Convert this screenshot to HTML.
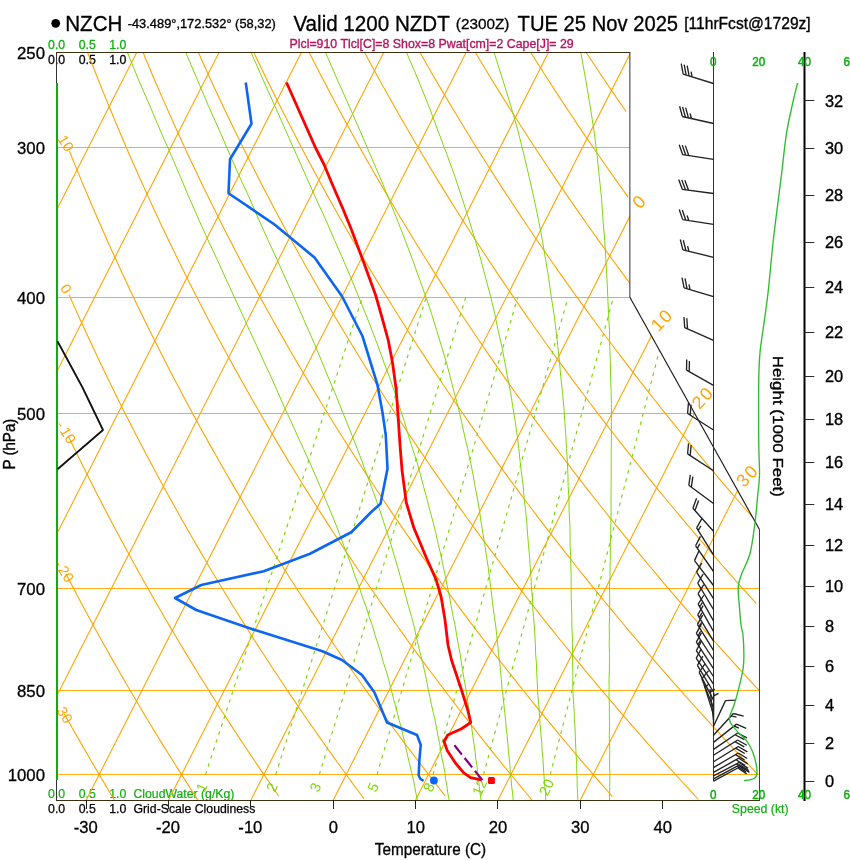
<!DOCTYPE html>
<html lang="en"><head><meta charset="utf-8"><title>NZCH Skew-T</title>
<style>
html,body{margin:0;padding:0;background:#fff}
body{width:850px;height:860px;overflow:hidden}
svg{display:block}
svg text{font-family:"Liberation Sans",sans-serif}
</style></head><body>
<svg width="850" height="860" viewBox="0 0 850 860" role="img" aria-label="NZCH skew-T log-P sounding forecast">
<rect width="850" height="860" fill="#fff"/>
<defs><clipPath id="cp"><polygon points="56.5,52.51 629.86,52.51 629.86,297.32 759.48,529.58 759.48,800 56.5,800"/></clipPath></defs>
<text transform="translate(56.6 48.9) scale(1 0.97)" font-size="12.3" fill="#10B010" stroke="#10B010" stroke-width="0.3" text-anchor="middle">0.0</text>
<text transform="translate(87.2 48.9) scale(1 0.97)" font-size="12.3" fill="#10B010" stroke="#10B010" stroke-width="0.3" text-anchor="middle">0.5</text>
<text transform="translate(117.7 48.9) scale(1 0.97)" font-size="12.3" fill="#10B010" stroke="#10B010" stroke-width="0.3" text-anchor="middle">1.0</text>
<text transform="translate(56.6 64)" font-size="12.3" stroke="#000" stroke-width="0.3" text-anchor="middle">0.0</text>
<text transform="translate(87.2 64)" font-size="12.3" stroke="#000" stroke-width="0.3" text-anchor="middle">0.5</text>
<text transform="translate(117.7 64)" font-size="12.3" stroke="#000" stroke-width="0.3" text-anchor="middle">1.0</text>
<text transform="translate(56.6 798.4) scale(1 0.97)" font-size="12.3" fill="#10B010" stroke="#10B010" stroke-width="0.2" text-anchor="middle">0.0</text>
<text transform="translate(87.2 798.4) scale(1 0.97)" font-size="12.3" fill="#10B010" stroke="#10B010" stroke-width="0.2" text-anchor="middle">0.5</text>
<text transform="translate(117.7 798.4) scale(1 0.97)" font-size="12.3" fill="#10B010" stroke="#10B010" stroke-width="0.2" text-anchor="middle">1.0</text>
<text transform="translate(133.5 798.4) scale(1 0.97)" font-size="12.25" fill="#10B010" stroke="#10B010" stroke-width="0.2">CloudWater (g/Kg)</text>
<text transform="translate(56.6 813.2)" font-size="12.3" stroke="#000" stroke-width="0.25" text-anchor="middle">0.0</text>
<text transform="translate(87.2 813.2)" font-size="12.3" stroke="#000" stroke-width="0.25" text-anchor="middle">0.5</text>
<text transform="translate(117.7 813.2)" font-size="12.3" stroke="#000" stroke-width="0.25" text-anchor="middle">1.0</text>
<text transform="translate(133.5 813.2)" font-size="12.25" stroke="#000" stroke-width="0.25">Grid-Scale Cloudiness</text>
<g clip-path="url(#cp)" fill="none">
<path d="M56.5 774.5L759.48 774.5" stroke="#FFA500" stroke-width="1" stroke-opacity=".9"/>
<path d="M56.5 690.5L759.48 690.5" stroke="#FFA500" stroke-width="1" stroke-opacity=".9"/>
<path d="M56.5 588.5L759.48 588.5" stroke="#FFA500" stroke-width="1" stroke-opacity=".9"/>
<path d="M56.5 413.5L694.37 413.5" stroke="#FFA500" stroke-width="1" stroke-opacity=".9"/>
<path d="M56.5 297.5L629.86 297.5" stroke="#FFA500" stroke-width="1" stroke-opacity=".9"/>
<path d="M56.5 147.5L629.86 147.5" stroke="#FFA500" stroke-width="1" stroke-opacity=".9"/>
<path d="M58.65 -280.14L132.12 -424.75" stroke="#FFA500" stroke-width="1.1" />
<path d="M57.45 -115.71L214.46 -424.75" stroke="#FFA500" stroke-width="1.1" />
<path d="M57.52 46.22L296.81 -424.75" stroke="#FFA500" stroke-width="1.1" />
<path d="M57.64 208.05L379.15 -424.75" stroke="#FFA500" stroke-width="1.1" />
<path d="M57.65 370.12L461.5 -424.75" stroke="#FFA500" stroke-width="1.1" />
<path d="M57.61 532.27L543.84 -424.75" stroke="#FFA500" stroke-width="1.1" />
<path d="M57.99 693.6L626.19 -424.75" stroke="#FFA500" stroke-width="1.1" />
<path d="M86.27 800L708.53 -424.75" stroke="#FFA500" stroke-width="1.1" />
<path d="M168.62 800L790.87 -424.75" stroke="#FFA500" stroke-width="1.1" />
<path d="M250.96 800L873.22 -424.75" stroke="#FFA500" stroke-width="1.1" />
<path d="M333.31 800L955.56 -424.75" stroke="#FFA500" stroke-width="1.1" />
<path d="M415.65 800L1037.91 -424.75" stroke="#FFA500" stroke-width="1.1" />
<path d="M497.99 800L1120.25 -424.75" stroke="#FFA500" stroke-width="1.1" />
<path d="M580.34 800L1202.6 -424.75" stroke="#FFA500" stroke-width="1.1" />
<path d="M64.39 713.89L67.63 719.71L70.86 725.46L74.07 731.16L77.26 736.79L80.44 742.36L83.6 747.87L86.75 753.32L89.88 758.72L92.99 764.06L96.1 769.35L99.18 774.59L102.26 779.77L105.31 784.9L108.36 789.98L111.39 795.02L114.41 800" stroke="#FFA500" stroke-width="1.1" />
<path d="M65.89 573.71L69.84 581.31L73.76 588.81L77.66 596.19L81.53 603.48L85.38 610.66L89.21 617.75L93.01 624.74L96.8 631.64L100.55 638.45L104.29 645.17L108.01 651.81L111.7 658.36L115.37 664.83L119.03 671.22L122.66 677.53L126.27 683.77L129.86 689.94L133.43 696.03L136.99 702.05L140.52 708L144.04 713.89L147.53 719.71L151.01 725.46L154.47 731.16L157.91 736.79L161.34 742.36L164.75 747.87L168.14 753.32L171.51 758.72L174.86 764.06L178.2 769.35L181.53 774.59L184.84 779.77L188.13 784.9L191.4 789.98L194.66 795.02L197.91 800" stroke="#FFA500" stroke-width="1.1" />
<path d="M68.26 435.98L73.03 445.86L77.77 455.56L82.46 465.08L87.12 474.44L91.75 483.62L96.34 492.65L100.9 501.52L105.42 510.25L109.91 518.83L114.37 527.27L118.8 535.58L123.2 543.76L127.56 551.81L131.9 559.73L136.21 567.54L140.49 575.24L144.74 582.82L148.96 590.29L153.16 597.66L157.32 604.92L161.47 612.09L165.58 619.16L169.67 626.13L173.74 633.01L177.77 639.8L181.79 646.51L185.78 653.12L189.75 659.66L193.69 666.11L197.61 672.49L201.51 678.79L205.38 685.01L209.24 691.16L213.07 697.24L216.88 703.25L220.67 709.19L224.43 715.06L228.18 720.86L231.91 726.61L235.62 732.29L239.3 737.91L242.97 743.47L246.62 748.97L250.25 754.41L253.86 759.79L257.45 765.13L261.03 770.4L264.58 775.63L268.12 780.8L271.64 785.92L275.15 790.99L278.63 796.02" stroke="#FFA500" stroke-width="1.1" />
<path d="M69.02 294.71L74.76 307.64L80.45 320.25L86.08 332.56L91.67 344.59L97.2 356.35L102.68 367.85L108.11 379.1L113.49 390.11L118.83 400.9L124.12 411.46L129.37 421.82L134.57 431.97L139.73 441.93L144.84 451.7L149.92 461.3L154.95 470.71L159.95 479.97L164.9 489.06L169.82 497.99L174.7 506.78L179.54 515.41L184.35 523.91L189.12 532.27L193.86 540.5L198.56 548.6L203.23 556.58L207.86 564.43L212.46 572.17L217.03 579.8L221.57 587.32L226.08 594.73L230.56 602.03L235.01 609.24L239.43 616.34L243.82 623.35L248.18 630.27L252.52 637.1L256.83 643.83L261.11 650.49L265.36 657.05L269.59 663.54L273.79 669.95L277.97 676.28L282.12 682.53L286.25 688.71L290.35 694.82L294.43 700.85L298.49 706.82L302.52 712.72L306.53 718.55L310.52 724.32L314.49 730.02L318.43 735.67L322.36 741.25L326.26 746.77L330.14 752.24L334 757.65L337.84 763L341.66 768.3L345.46 773.54L349.24 778.74L353 783.88L356.74 788.97L360.47 794.01L364.17 799.01" stroke="#FFA500" stroke-width="1.1" />
<path d="M69.35 150.94L76.22 167.91L83.02 184.34L89.74 200.27L96.38 215.73L102.96 230.74L109.46 245.33L115.89 259.52L122.25 273.34L128.54 286.8L134.78 299.92L140.94 312.72L147.05 325.21L153.09 337.41L159.08 349.33L165.01 360.98L170.88 372.38L176.7 383.53L182.47 394.45L188.18 405.15L193.84 415.63L199.45 425.9L205.01 435.98L210.53 445.86L215.99 455.56L221.41 465.08L226.79 474.44L232.12 483.62L237.41 492.65L242.66 501.52L247.86 510.25L253.02 518.83L258.15 527.27L263.23 535.58L268.28 543.76L273.29 551.81L278.26 559.73L283.2 567.54L288.1 575.24L292.97 582.82L297.8 590.29L302.6 597.66L307.36 604.92L312.1 612.09L316.8 619.16L321.47 626.13L326.11 633.01L330.72 639.8L335.29 646.51L339.84 653.12L344.36 659.66L348.86 666.11L353.32 672.49L357.76 678.79L362.17 685.01L366.55 691.16L370.91 697.24L375.24 703.25L379.55 709.19L383.83 715.06L388.08 720.86L392.32 726.61L396.52 732.29L400.71 737.91L404.87 743.47L409.01 748.97L413.12 754.41L417.22 759.79L421.29 765.13L425.34 770.4L429.37 775.63L433.37 780.8L437.36 785.92L441.33 790.99L445.27 796.02" stroke="#FFA500" stroke-width="1.1" />
<path d="M79.61 31.25L87.65 52.51L95.59 72.94L103.42 92.6L111.15 111.54L118.78 129.82L126.32 147.48L133.76 164.56L141.11 181.09L148.37 197.12L155.54 212.67L162.63 227.77L169.64 242.44L176.57 256.71L183.42 270.6L190.19 284.13L196.9 297.32L203.52 310.18L210.08 322.73L216.58 334.99L223 346.97L229.36 358.67L235.66 370.12L241.89 381.32L248.07 392.29L254.19 403.03L260.25 413.55L266.25 423.86L272.2 433.98L278.1 443.9L283.94 453.64L289.74 463.19L295.48 472.58L301.17 481.8L306.82 490.86L312.42 499.76L317.97 508.51L323.48 517.12L328.95 525.59L334.37 533.93L339.75 542.13L345.09 550.21L350.39 558.16L355.65 565.99L360.87 573.71L366.05 581.31L371.2 588.81L376.3 596.19L381.37 603.48L386.41 610.66L391.41 617.75L396.38 624.74L401.31 631.64L406.21 638.45L411.08 645.17L415.91 651.81L420.72 658.36L425.49 664.83L430.23 671.22L434.94 677.53L439.63 683.77L444.28 689.94L448.91 696.03L453.51 702.05L458.08 708L462.62 713.89L467.13 719.71L471.62 725.46L476.09 731.16L480.53 736.79L484.94 742.36L489.33 747.87L493.69 753.32L498.03 758.72L502.35 764.06L506.64 769.35L510.91 774.59L515.15 779.77L519.38 784.9L523.58 789.98L527.76 795.02L531.91 800" stroke="#FFA500" stroke-width="1.1" />
<path d="M136.97 37.72L145.62 58.73L154.15 78.92L162.56 98.35L170.84 117.09L179.02 135.18L187.09 152.66L195.04 169.57L202.9 185.95L210.66 201.83L218.32 217.25L225.88 232.21L233.36 246.77L240.74 260.92L248.04 274.7L255.25 288.13L262.39 301.21L269.44 313.98L276.42 326.44L283.32 338.61L290.15 350.5L296.91 362.13L303.6 373.5L310.23 384.63L316.78 395.53L323.28 406.21L329.71 416.67L336.08 426.92L342.39 436.97L348.64 446.84L354.83 456.52L360.97 466.03L367.06 475.36L373.09 484.53L379.07 493.54L385 502.4L390.89 511.11L396.72 519.68L402.5 528.11L408.24 536.4L413.93 544.57L419.58 552.6L425.19 560.52L430.75 568.32L436.27 576L441.74 583.57L447.18 591.03L452.58 598.39L457.94 605.65L463.26 612.8L468.54 619.86L473.79 626.82L479 633.69L484.17 640.48L489.31 647.17L494.42 653.78L499.49 660.31L504.53 666.75L509.53 673.12L514.5 679.41L519.45 685.63L524.36 691.77L529.24 697.84L534.09 703.84L538.91 709.78L543.7 715.64L548.46 721.44L553.19 727.18L557.9 732.85L562.58 738.46L567.23 744.02L571.86 749.51L576.46 754.95L581.03 760.33L585.58 765.66L590.1 770.93L594.6 776.15L599.07 781.31L603.52 786.43L607.95 791.5L612.35 796.52" stroke="#FFA500" stroke-width="1.1" />
<path d="M197.51 50.42L206.71 70.93L215.77 90.67L224.7 109.68L233.5 128.02L242.17 145.74L250.73 162.87L259.16 179.46L267.48 195.54L275.7 211.14L283.8 226.28L291.81 240.99L299.71 255.3L307.52 269.23L315.24 282.8L322.86 296.02L330.4 308.91L337.85 321.49L345.21 333.78L352.5 345.78L359.71 357.51L366.84 368.99L373.9 380.21L380.88 391.2L387.8 401.96L394.64 412.51L401.42 422.84L408.13 432.98L414.78 442.92L421.37 452.67L427.89 462.25L434.36 471.65L440.77 480.88L447.12 489.96L453.42 498.88L459.66 507.65L465.85 516.27L471.98 524.75L478.07 533.1L484.11 541.32L490.09 549.4L496.04 557.37L501.93 565.21L507.78 572.94L513.58 580.56L519.34 588.06L525.06 595.46L530.73 602.76L536.36 609.95L541.95 617.05L547.51 624.05L553.02 630.96L558.49 637.77L563.93 644.5L569.33 651.15L574.69 657.71L580.02 664.19L585.31 670.58L590.56 676.91L595.79 683.15L600.97 689.32L606.13 695.42L611.25 701.45L616.34 707.41L621.4 713.3L626.43 719.13L631.43 724.89L636.4 730.59L641.34 736.23L646.25 741.8L651.13 747.32L655.98 752.78L660.81 758.18L665.61 763.53L670.38 768.83L675.12 774.07L679.84 779.25L684.53 784.39L689.2 789.48L693.84 794.51L698.46 799.5" stroke="#FFA500" stroke-width="1.1" />
<path d="M243.85 31.25L253.83 52.51L263.64 72.94L273.3 92.6L282.8 111.54L292.17 129.82L301.39 147.48L310.48 164.56L319.44 181.09L328.28 197.12L337 212.67L345.6 227.77L354.08 242.44L362.46 256.71L370.74 270.6L378.91 284.13L386.98 297.32L394.96 310.18L402.84 322.73L410.63 334.99L418.34 346.97L425.96 358.67L433.49 370.12L440.95 381.32L448.33 392.29L455.63 403.03L462.86 413.55L470.01 423.86L477.1 433.98L484.11 443.9L491.06 453.64L497.94 463.19L504.76 472.58L511.52 481.8L518.22 490.86L524.85 499.76L531.43 508.51L537.95 517.12L544.42 525.59L550.83 533.93L557.19 542.13L563.49 550.21L569.75 558.16L575.95 565.99L582.1 573.71L588.21 581.31L594.27 588.81L600.29 596.19L606.26 603.48L612.18 610.66L618.06 617.75L623.9 624.74L629.7 631.64L635.45 638.45L641.17 645.17L646.84 651.81L652.48 658.36L658.07 664.83L663.64 671.22L669.16 677.53L674.65 683.77L680.1 689.94L685.51 696.03L690.89 702.05L696.24 708L701.55 713.89L706.84 719.71L712.08 725.46L717.3 731.16L722.49 736.79L727.64 742.36L732.76 747.87L737.86 753.32L742.92 758.72L747.96 764.06L752.96 769.35L757.94 774.59" stroke="#FFA500" stroke-width="1.1" />
<path d="M298.6 31.25L309.22 52.51L319.65 72.94L329.92 92.6L340.02 111.54L349.96 129.82L359.75 147.48L369.39 164.56L378.89 181.09L388.25 197.12L397.48 212.67L406.58 227.77L415.56 242.44L424.43 256.71L433.17 270.6L441.81 284.13L450.34 297.32L458.77 310.18L467.09 322.73L475.32 334.99L483.45 346.97L491.49 358.67L499.44 370.12L507.3 381.32L515.08 392.29L522.78 403.03L530.39 413.55L537.93 423.86L545.4 433.98L552.78 443.9L560.1 453.64L567.35 463.19L574.53 472.58L581.64 481.8L588.68 490.86L595.66 499.76L602.58 508.51L609.44 517.12L616.24 525.59L622.98 533.93L629.66 542.13L636.29 550.21L642.86 558.16L649.38 565.99L655.85 573.71L662.27 581.31L668.63 588.81L674.95 596.19L681.22 603.48L687.44 610.66L693.61 617.75L699.74 624.74L705.82 631.64L711.86 638.45L717.86 645.17L723.82 651.81L729.73 658.36L735.6 664.83L741.44 671.22L747.23 677.53L752.98 683.77L758.7 689.94" stroke="#FFA500" stroke-width="1.1" />
<path d="M353.35 31.25L364.61 52.51L375.67 72.94L386.54 92.6L397.24 111.54L407.75 129.82L418.1 147.48L428.29 164.56L438.33 181.09L448.22 197.12L457.96 212.67L467.57 227.77L477.04 242.44L486.39 256.71L495.61 270.6L504.72 284.13L513.7 297.32L522.58 310.18L531.34 322.73L540 334.99L548.56 346.97L557.02 358.67L565.38 370.12L573.66 381.32L581.83 392.29L589.93 403.03L597.93 413.55L605.85 423.86L613.69 433.98L621.46 443.9L629.14 453.64L636.75 463.19L644.29 472.58L651.75 481.8L659.15 490.86L666.47 499.76L673.73 508.51L680.93 517.12L688.06 525.59L695.13 533.93L702.14 542.13L709.09 550.21L715.98 558.16L722.82 565.99L729.59 573.71L736.32 581.31L742.99 588.81L749.61 596.19L756.18 603.48" stroke="#FFA500" stroke-width="1.1" />
<path d="M408.1 31.25L420 52.51L431.69 72.94L443.17 92.6L454.45 111.54L465.55 129.82L476.46 147.48L487.2 164.56L497.77 181.09L508.19 197.12L518.45 212.67L528.56 227.77L538.53 242.44L548.35 256.71L558.05 270.6L567.62 284.13L577.06 297.32L586.39 310.18L595.59 322.73L604.69 334.99L613.67 346.97L622.55 358.67L631.33 370.12L640.01 381.32L648.59 392.29L657.07 403.03L665.47 413.55L673.77 423.86L681.99 433.98L690.13 443.9L698.18 453.64L706.15 463.19L714.05 472.58L721.87 481.8L729.61 490.86L737.28 499.76L744.89 508.51L752.42 517.12" stroke="#FFA500" stroke-width="1.1" />
<path d="M462.85 31.25L475.39 52.51L487.71 72.94L499.79 92.6L511.67 111.54L523.34 129.82L534.82 147.48L546.11 164.56L557.22 181.09L568.16 197.12L578.93 212.67L589.54 227.77L600.01 242.44L610.32 256.71L620.49 270.6L630.52 284.13" stroke="#FFA500" stroke-width="1.1" />
<path d="M517.6 31.25L530.79 52.51L543.72 72.94L556.42 92.6L568.89 111.54L581.13 129.82L593.17 147.48L605.01 164.56L616.66 181.09L628.13 197.12" stroke="#FFA500" stroke-width="1.1" />
<path d="M572.35 31.25L586.18 52.51L599.74 72.94L613.04 92.6L626.1 111.54" stroke="#FFA500" stroke-width="1.1" />
<path d="M417.34 800L415.95 793.23L414.61 786.37L413.32 779.42L411.58 772.38L409.85 765.23L408.17 757.99L406.54 750.65L404.96 743.2L402.96 735.65L401.49 727.98L399.12 720.2L397.28 712.3L395.03 704.28L392.84 696.13L390.71 687.85L388.65 679.44L386.17 670.9L383.28 662.21L380.94 653.37L378.2 644.38L375.06 635.23L372.48 625.92L369.02 616.44L366.13 606.78L362.36 596.94L359.19 586.91L355.21 576.69L351.81 566.25L347.55 555.61L343.41 544.74L339.39 533.65L335 522.31L330.27 510.72L325.18 498.86L320.23 486.73L314.95 474.31L309.34 461.59L303.4 448.54L297.16 435.17L291.09 421.43L284.4 407.33L278.1 392.84L271.54 377.93L264.25 362.58L257.21 346.76L249.47 330.45L242 313.62L233.87 296.22L225.58 278.22L217.15 259.57L208.12 240.23L199 220.15L189.83 199.26L180.64 177.49L170.98 154.78L160.52 131.04L149.98 106.15L138.62 80.02L127.48 52.51" stroke="#80D60C" stroke-width="1" />
<path d="M449.18 800L447.8 793.23L446.94 786.37L445.65 779.42L444.86 772.38L443.58 765.23L441.86 757.99L440.68 750.65L439.55 743.2L437.99 735.65L436.49 727.98L435.05 720.2L433.18 712.3L431.37 704.28L429.62 696.13L427.96 687.85L426.42 679.44L424.48 670.9L422.6 662.21L420.32 653.37L418.12 644.38L415.99 635.23L413.95 625.92L411.51 616.44L408.68 606.78L405.94 596.94L403.3 586.91L400.32 576.69L397.44 566.25L394.19 555.61L391.05 544.74L387.54 533.65L383.68 522.31L379.95 510.72L375.87 498.86L371.44 486.73L366.68 474.31L362.08 461.59L357.16 448.54L351.92 435.17L346.38 421.43L340.71 407.33L334.96 392.84L328.47 377.93L322.22 362.58L315.73 346.76L308.54 330.45L301.15 313.62L293.58 296.22L285.37 278.22L277.02 259.57L268.08 240.23L259.05 220.15L249.97 199.26L239.92 177.49L229.88 154.78L219.68 131.04L208.51 106.15L197.51 80.02L185.78 52.51" stroke="#80D60C" stroke-width="1" />
<path d="M481.03 800L480.12 793.23L479.27 786.37L478.46 779.42L477.67 772.38L476.88 765.23L475.66 757.99L474.97 750.65L473.85 743.2L472.78 735.65L471.77 727.98L470.33 720.2L469.44 712.3L468.12 704.28L466.86 696.13L465.69 687.85L464.17 679.44L462.71 670.9L461.33 662.21L460.02 653.37L458.31 644.38L456.68 635.23L455.12 625.92L453.18 616.44L451.32 606.78L449.55 596.94L447.42 586.91L445.49 576.69L443.17 566.25L440.97 555.61L438.4 544.74L435.95 533.65L433.14 522.31L429.98 510.72L426.96 498.86L423.6 486.73L420.39 474.31L416.85 461.59L412.52 448.54L408.35 435.17L404.37 421.43L399.7 407.33L394.86 392.84L389.75 377.93L383.92 362.58L378.33 346.76L372.04 330.45L365.55 313.62L358.39 296.22L351.07 278.22L343.12 259.57L334.58 240.23L325.95 220.15L316.31 199.26L306.64 177.49L296.51 154.78L285.92 131.04L274.93 106.15L263.16 80.02L251.15 52.51" stroke="#80D60C" stroke-width="1" />
<path d="M513.17 800L512.62 793.23L511.63 786.37L511.16 779.42L510.27 772.38L509.94 765.23L509.17 757.99L508.46 750.65L507.79 743.2L507.18 735.65L506.14 727.98L505.64 720.2L504.72 712.3L503.86 704.28L503.06 696.13L501.88 687.85L501.4 679.44L500.5 670.9L499.68 662.21L498.45 653.37L497.78 644.38L496.71 635.23L495.72 625.92L494.34 616.44L493.05 606.78L491.86 596.94L490.77 586.91L489.37 576.69L488.07 566.25L486.39 555.61L484.84 544.74L482.92 533.65L481.13 522.31L479.47 510.72L477.47 498.86L475.13 486.73L472.94 474.31L470.42 461.59L467.59 448.54L464.46 435.17L461.51 421.43L458.26 407.33L454.26 392.84L450.47 377.93L446.44 362.58L441.68 346.76L436.69 330.45L431.5 313.62L425.64 296.22L419.13 278.22L412.47 259.57L405.21 240.23L397.37 220.15L388.99 199.26L380.1 177.49L370.26 154.78L360.12 131.04L349.19 106.15L337.47 80.02L325.52 52.51" stroke="#80D60C" stroke-width="1" />
<path d="M545.72 800L545.51 793.23L544.87 786.37L544.26 779.42L543.73 772.38L543.3 765.23L542.91 757.99L542.09 750.65L541.8 743.2L541.09 735.65L540.42 727.98L539.81 720.2L539.26 712.3L538.76 704.28L537.85 696.13L537.55 687.85L537.08 679.44L536.67 670.9L536.34 662.21L535.6 653.37L535.42 644.38L534.84 635.23L534.35 625.92L533.46 616.44L532.66 606.78L532.44 596.94L531.37 586.91L530.97 576.69L530.18 566.25L529.51 555.61L528.48 544.74L527.56 533.65L526.78 522.31L525.64 510.72L524.16 498.86L523.31 486.73L521.64 474.31L520.14 461.59L518.8 448.54L517.16 435.17L515.22 421.43L512.89 407.33L510.65 392.84L507.66 377.93L504.89 362.58L501.87 346.76L498.15 330.45L494.69 313.62L490.56 296.22L485.76 278.22L480.82 259.57L475.26 240.23L469.12 220.15L462.43 199.26L455.22 177.49L447.04 154.78L438.09 131.04L428.83 106.15L418.28 80.02L406.52 52.51" stroke="#80D60C" stroke-width="1" />
<path d="M577.74 800L577.67 793.23L577.16 786.37L577.18 779.42L576.72 772.38L576.72 765.23L576.28 757.99L575.9 750.65L575.56 743.2L575.27 735.65L575.03 727.98L574.37 720.2L574.24 712.3L573.69 704.28L573.2 696.13L572.85 687.85L572.82 679.44L572.86 670.9L572.5 662.21L572.69 653.37L572.48 644.38L572.34 635.23L571.81 625.92L571.85 616.44L571.5 606.78L571.24 596.94L571.1 586.91L571.16 576.69L570.84 566.25L570.63 555.61L570.06 544.74L570.09 533.65L569.77 522.31L569.1 510.72L569.04 498.86L568.17 486.73L567.93 474.31L567.37 461.59L566.49 448.54L565.79 435.17L564.79 421.43L563.88 407.33L562.53 392.84L560.92 377.93L559.53 362.58L557.89 346.76L556.02 330.45L553.93 313.62L551.17 296.22L548.71 278.22L545.61 259.57L542.38 240.23L538.56 220.15L534.18 199.26L529.28 177.49L523.9 154.78L518.07 131.04L510.88 106.15L502.87 80.02L494.11 52.51" stroke="#80D60C" stroke-width="1" />
<path d="M609.57 800L609.6 793.23L609.69 786.37L609.81 779.42L609.93 772.38L609.51 765.23L609.61 757.99L609.77 750.65L609.49 743.2L609.26 735.65L609.57 727.98L609.45 720.2L609.39 712.3L609.39 704.28L608.97 696.13L609.13 687.85L608.99 679.44L609.41 670.9L609.41 662.21L609.49 653.37L609.16 644.38L609.39 635.23L609.23 625.92L609.62 616.44L609.63 606.78L609.73 596.94L609.48 586.91L609.99 576.69L610.12 566.25L610.37 555.61L610.25 544.74L610.73 533.65L610.86 522.31L611.12 510.72L611.03 498.86L611.09 486.73L611.29 474.31L611.18 461.59L611.23 448.54L611.45 435.17L611.38 421.43L611.45 407.33L611.18 392.84L610.65 377.93L610.34 362.58L609.78 346.76L609.48 330.45L608.49 313.62L607.78 296.22L606.9 278.22L605.88 259.57L604.72 240.23L602.98 220.15L601.66 199.26L599.34 177.49L597.02 154.78L594.05 131.04L590.11 106.15L585.82 80.02L580.78 52.51" stroke="#80D60C" stroke-width="1" />
<path d="M205.48 774.59L362.38 297.32" stroke="#80D60C" stroke-width="1.2" stroke-dasharray="3.6 4.8"/>
<path d="M275.75 774.59L426.22 297.32" stroke="#80D60C" stroke-width="1.2" stroke-dasharray="3.6 4.8"/>
<path d="M319.32 774.59L465.66 297.32" stroke="#80D60C" stroke-width="1.2" stroke-dasharray="3.6 4.8"/>
<path d="M377 774.59L517.72 297.32" stroke="#80D60C" stroke-width="1.2" stroke-dasharray="3.6 4.8"/>
<path d="M432.96 774.59L568.06 297.32" stroke="#80D60C" stroke-width="1.2" stroke-dasharray="3.6 4.8"/>
<path d="M483.52 774.59L613.43 297.32" stroke="#80D60C" stroke-width="1.2" stroke-dasharray="3.6 4.8"/>
<path d="M550.25 774.59L673.11 297.32" stroke="#80D60C" stroke-width="1.2" stroke-dasharray="3.6 4.8"/>
</g>
<g font-size="14.4" fill="#FFA500" text-anchor="middle">
<text transform="translate(63.4 712.01) rotate(58)" y="5.3" letter-spacing="0.25">-<tspan dx="1.9">30</tspan></text>
<text transform="translate(64.58 571.01) rotate(58)" y="5.3" letter-spacing="0.25">-<tspan dx="1.9">20</tspan></text>
<text transform="translate(66.58 432.23) rotate(58)" y="5.3" letter-spacing="0.25">-<tspan dx="1.9">10</tspan></text>
<text transform="translate(66.42 288.79) rotate(58)" y="5.3" letter-spacing="0.25">0</text>
<text transform="translate(66.23 143.12) rotate(58)" y="5.3" letter-spacing="0.25">10</text>
</g>
<g font-size="18" fill="#FFA500" text-anchor="middle">
<text transform="translate(639.26 201.03) rotate(-47)" y="6.44" letter-spacing="1.6">0</text>
<text transform="translate(661.81 319.49) rotate(-47)" y="6.44" letter-spacing="1.6">10</text>
<text transform="translate(702.64 397.45) rotate(-47)" y="6.44" letter-spacing="1.6">20</text>
<text transform="translate(747.31 475.36) rotate(-47)" y="6.44" letter-spacing="1.6">30</text>
</g>
<g font-size="14.4" fill="#80D60C" text-anchor="middle">
<text transform="translate(201.48 786.99) rotate(-65)" y="5.16" letter-spacing="0.4">1</text>
<text transform="translate(271.75 786.99) rotate(-65)" y="5.16" letter-spacing="0.4">2</text>
<text transform="translate(315.32 786.99) rotate(-65)" y="5.16" letter-spacing="0.4">3</text>
<text transform="translate(373 786.99) rotate(-65)" y="5.16" letter-spacing="0.4">5</text>
<text transform="translate(428.96 786.99) rotate(-65)" y="5.16" letter-spacing="0.4">8</text>
<text transform="translate(479.52 786.99) rotate(-65)" y="5.16" letter-spacing="0.4">12</text>
<text transform="translate(546.25 786.99) rotate(-65)" y="5.16" letter-spacing="0.4">20</text>
</g>
<g fill="none">
<path d="M56.5 800L56.5 52.51" stroke="#333" stroke-width="1" />
<path d="M629.86 52.51L629.86 297.32" stroke="#333" stroke-width="1" />
<path d="M629.86 297.32L759.48 529.58" stroke="#1a1a1a" stroke-width="1.15" />
<path d="M759.48 529.28L759.48 800" stroke="#3a3a3a" stroke-width="1" />
<path d="M56 52.51L630.36 52.51" stroke="#3c3010" stroke-width="1.1" />
<path d="M56 800.5L759.98 800.5" stroke="#3c3010" stroke-width="1.15" />
<path d="M86.5 800L86.5 809" stroke="#222" stroke-width="1" />
<path d="M168.5 800L168.5 809" stroke="#222" stroke-width="1" />
<path d="M250.5 800L250.5 809" stroke="#222" stroke-width="1" />
<path d="M333.5 800L333.5 809" stroke="#222" stroke-width="1" />
<path d="M415.5 800L415.5 809" stroke="#222" stroke-width="1" />
<path d="M497.5 800L497.5 809" stroke="#222" stroke-width="1" />
<path d="M580.5 800L580.5 809" stroke="#222" stroke-width="1" />
<path d="M662.5 800L662.5 809" stroke="#222" stroke-width="1" />
</g>
<g fill="none" stroke-linejoin="round">
<path d="M57 83L57 780" stroke="#18A518" stroke-width="2" />
<path d="M57.5 341.25L82.5 387.5L103 430L57.5 469.25" stroke="#111" stroke-width="1.8" />
</g>
<g fill="none" stroke-linejoin="round" stroke-linecap="butt">
<path d="M245.75 82.5L251.5 123.75L230 159.25L228.5 193.25L274.5 224.5L314.5 257.5L342 296.25L362.5 336.25L377.5 385L382.5 412.5L385.75 435L387.5 468.75L383.75 487.5L380.5 503.75L372 511.25L351.25 532.25L310 553.75L263.75 571.25L201.25 585L175 598L196.25 610L252.5 629.25L322.5 651.25L342 660L362 675L374.5 692.5L387 722.5L417 735L420.75 745L419.4 760L418.7 775.5L420.5 779L423.6 780.8" stroke="#0D66F2" stroke-width="2.6" />
<path d="M286.5 82.5L315.4 147.5L323.8 164L332.7 185.3L343.4 210L351.6 230L362.8 260L375.6 295L381.3 315L388.2 340L392.5 362.5L396.25 390L398 415L400 445L402 470L406.25 502.5L413.75 527.5L426.25 557.5L436.25 580L441.25 597.5L445 620L448 645L451.5 660L461.5 690L467.75 710L470.75 722.5L461.5 728.75L447.75 735L444 741.25L447.2 750.4L455.4 763L463.8 772.8L470.6 777.6L481.3 779.9" stroke="#FF0000" stroke-width="2.8" />
<path d="M454.4 745.2L482.4 780.2" stroke="#800080" stroke-width="2.2" stroke-dasharray="12 4.4"/>
</g>
<circle cx="433.9" cy="780.5" r="3.9" fill="#0A64FF"/>
<rect x="487.9" y="777" width="7" height="7" rx="1.6" fill="#FF0000"/>
<g fill="none" stroke="#222" stroke-width="1.35" stroke-linecap="butt" stroke-linejoin="miter">
<path d="M713.5 52L713.5 781.3" stroke="#333" stroke-width="1" />
<path d="M713.5 83.5L683.2 74.1M683.2 74.1L681.22 63.69M686.16 75.02L684.18 64.61M689.12 75.94L687.14 65.52M692.08 76.86L691.09 71.65"/>
<path d="M713.5 123.5L682.4 116.5M682.4 116.5L679.6 106.28M685.42 117.18L682.62 106.96M688.45 117.86L685.65 107.64M691.47 118.54L690.07 113.43"/>
<path d="M713.5 159.4L682.7 154.7M682.7 154.7L679.19 144.7M685.76 155.17L682.26 145.16M688.83 155.64L685.32 145.63"/>
<path d="M713.5 193.5L682.4 189.4M682.4 189.4L678.69 179.47M685.47 189.81L681.76 179.88M688.55 190.21L684.84 180.28"/>
<path d="M713.5 224.4L682.7 219.6M682.7 219.6L679.22 209.59M685.76 220.08L682.29 210.06M688.83 220.55L687.09 215.55"/>
<path d="M713.5 257.3L682.9 249.8M682.9 249.8L680.29 239.53M685.91 250.54L683.31 240.26M688.92 251.28L687.62 246.14"/>
<path d="M713.5 296.7L684.1 287.9M684.1 287.9L682.02 277.51M687.07 288.79L684.99 278.4M690.04 289.68L689 284.48"/>
<path d="M713.5 340.4L684.7 327.6M684.7 327.6L683.95 317.03M687.53 328.86L686.79 318.29"/>
<path d="M713.5 385.3L686.5 370.2M686.5 370.2L686.73 359.6M689.21 371.71L689.43 361.12"/>
<path d="M713.5 430L687.6 413.5M687.6 413.5L688.43 402.93M690.21 415.17L691.05 404.6"/>
<path d="M713.5 470.8L687.6 453.9M687.6 453.9L688.55 443.34M690.2 455.59L691.14 445.04"/>
<path d="M713.5 503.5L688.8 485.3M688.8 485.3L690.35 474.81M691.3 487.14L692.84 476.65"/>
<path d="M713.5 531.3L692.9 508.2M692.9 508.2L696.57 498.26M694.96 510.51L698.64 500.57"/>
<path d="M713.5 554.9L696.6 527.8M696.6 527.8L701.91 518.62M698.24 530.43L700.89 525.84"/>
<path d="M713.5 571.5L695.6 545.8M695.6 545.8L700.44 536.37M697.37 548.34L699.79 543.63"/>
<path d="M713.5 585.5L694.5 560.6M694.5 560.6L698.92 550.97"/>
<path d="M713.5 598.6L696.6 572.2M696.6 572.2L701.8 562.96"/>
<path d="M713.5 609.5L697.7 583.1M697.7 583.1L703.18 574.02"/>
<path d="M713.5 620.8L698.1 593.6M698.1 593.6L703.79 584.66"/>
<path d="M713.5 631.3L698.1 604.2M698.1 604.2L703.78 595.25M699.63 606.9L702.47 602.42"/>
<path d="M713.5 641.2L697.7 614.8M697.7 614.8L703.18 605.72M699.29 617.46L702.03 612.92"/>
<path d="M713.5 650.3L697.4 624.3M697.4 624.3L702.74 615.14M699.03 626.94L701.7 622.36"/>
<path d="M713.5 659.5L696.3 633.4M696.3 633.4L701.38 624.09M698.01 635.99L700.54 631.34"/>
<path d="M713.5 668.7L696.3 642.2M696.3 642.2L701.44 632.93M697.99 644.8L700.56 640.17"/>
<path d="M713.5 676.5L696.3 650.7M696.3 650.7L701.33 641.37"/>
<path d="M713.5 684.1L696.2 658.2M696.2 658.2L701.22 648.86"/>
<path d="M713.5 692L697.4 665.3M697.4 665.3L702.85 656.21"/>
<path d="M713.5 700.1L699.1 672.4M699.1 672.4L705.11 663.67"/>
<path d="M713.5 707.7L701.8 678.8M701.8 678.8L708.61 670.68"/>
<path d="M713.5 714.5L704.1 684.7M705.03 687.66L708.75 683.88"/>
<path d="M713.5 720L710 689M710.35 692.08L714.72 689.08"/>
<path d="M713.5 724L713.8 692.8M713.77 695.9L718.47 693.46"/>
<path d="M713.5 726.2L725.5 700.6M725.5 700.6L736.09 700.07"/>
<path d="M713.5 735.3L733.4 713.5M733.4 713.5L743.67 716.13M731.31 715.79L736.44 717.11"/>
<path d="M713.5 742.4L736.5 724.1M736.5 724.1L746.22 728.33M734.07 726.03L738.93 728.14"/>
<path d="M713.5 749.4L737.6 733M737.6 733L746.98 737.94M735.04 734.74L744.42 739.68"/>
<path d="M713.5 755.3L737.6 740M737.6 740L746.82 745.23M734.98 741.66L744.2 746.9"/>
<path d="M713.5 761.8L738.2 746.5M738.2 746.5L747.36 751.84M735.56 748.13L744.72 753.47"/>
<path d="M713.5 767.6L738.2 753M738.2 753L747.25 758.52M735.53 754.58L744.58 760.1"/>
<path d="M713.5 772.4L738.8 758.2M738.8 758.2L747.72 763.93M736.1 759.72L745.02 765.44"/>
<path d="M713.5 775.9L739.4 762.4M739.4 762.4L748.14 768.4M736.65 763.83L745.39 769.83"/>
<path d="M713.5 778.8L740 764.7M740 764.7L748.79 770.62M737.26 766.16L746.05 772.08"/>
<path d="M713.5 781.2L740.6 766.5M740.6 766.5L749.44 772.35M737.88 767.98L746.71 773.83"/>
</g>
<g fill="none" stroke-linejoin="round">
<path d="M797.6 83C796.9 85.83 795.23 91.72 793.4 100C791.57 108.28 788.5 120.95 786.6 132.7C784.7 144.45 783.4 159.17 782 170.5C780.6 181.83 779.67 188.95 778.2 200.7C776.73 212.45 774.87 225.9 773.2 241C771.53 256.1 769.78 277.3 768.2 291.3C766.62 305.3 765.12 314.8 763.75 325C762.38 335.2 760.83 343.33 760 352.5C759.17 361.67 758.96 365 758.75 380C758.54 395 758.62 426.67 758.75 442.5C758.88 458.33 759.69 466 759.5 475C759.31 484 758.4 488.17 757.6 496.5C756.8 504.83 755.97 515.5 754.7 525C753.43 534.5 752.15 545.42 750 553.5C747.85 561.58 743.67 568.58 741.8 573.5C739.93 578.42 739.4 580.08 738.8 583C738.2 585.92 738.1 587.08 738.2 591C738.3 594.92 738.93 600.83 739.4 606.5C739.87 612.17 740.4 620.2 741 625C741.6 629.8 742.52 630.25 743 635.3C743.48 640.35 743.9 649.62 743.9 655.3C743.9 660.98 743.95 663.52 743 669.4C742.05 675.28 739.68 684.72 738.2 690.6C736.72 696.48 735.38 700.8 734.1 704.7C732.82 708.6 731.28 711.7 730.5 714C729.72 716.3 729.28 716.83 729.4 718.5C729.52 720.17 729.73 721.68 731.2 724C732.67 726.32 735.65 729.63 738.2 732.4C740.75 735.17 744.13 737.47 746.5 740.6C748.87 743.73 750.83 747.48 752.4 751.2C753.97 754.92 755.13 759.37 755.9 762.9C756.67 766.43 757.1 769.95 757 772.4C756.9 774.85 756.47 776.37 755.3 777.6C754.13 778.83 751.9 779.3 750 779.8C748.1 780.3 744.92 780.47 743.9 780.6" stroke="#2DBE2D" stroke-width="1.35"/>
<path d="M804.5 52L804.5 801" stroke="#000" stroke-width="2" />
<path d="M804.5 100.5L814.3 100.5" stroke="#2a2a2a" stroke-width="1" />
<path d="M804.5 148.5L814.3 148.5" stroke="#2a2a2a" stroke-width="1" />
<path d="M804.5 195.5L814.3 195.5" stroke="#2a2a2a" stroke-width="1" />
<path d="M804.5 242.5L814.3 242.5" stroke="#2a2a2a" stroke-width="1" />
<path d="M804.5 287.5L814.3 287.5" stroke="#2a2a2a" stroke-width="1" />
<path d="M804.5 332.5L814.3 332.5" stroke="#2a2a2a" stroke-width="1" />
<path d="M804.5 376.5L814.3 376.5" stroke="#2a2a2a" stroke-width="1" />
<path d="M804.5 419.5L814.3 419.5" stroke="#2a2a2a" stroke-width="1" />
<path d="M804.5 462.5L814.3 462.5" stroke="#2a2a2a" stroke-width="1" />
<path d="M804.5 504.5L814.3 504.5" stroke="#2a2a2a" stroke-width="1" />
<path d="M804.5 545.5L814.3 545.5" stroke="#2a2a2a" stroke-width="1" />
<path d="M804.5 586.5L814.3 586.5" stroke="#2a2a2a" stroke-width="1" />
<path d="M804.5 626.5L814.3 626.5" stroke="#2a2a2a" stroke-width="1" />
<path d="M804.5 666.5L814.3 666.5" stroke="#2a2a2a" stroke-width="1" />
<path d="M804.5 705.5L814.3 705.5" stroke="#2a2a2a" stroke-width="1" />
<path d="M804.5 743.5L814.3 743.5" stroke="#2a2a2a" stroke-width="1" />
<path d="M804.5 781.5L814.3 781.5" stroke="#2a2a2a" stroke-width="1" />
</g>
<text transform="translate(834 106.5) scale(1 0.98)" font-size="16.4" stroke="#000" stroke-width="0.35" text-anchor="middle">32</text>
<text transform="translate(834 153.8) scale(1 0.98)" font-size="16.4" stroke="#000" stroke-width="0.35" text-anchor="middle">30</text>
<text transform="translate(834 201.1) scale(1 0.98)" font-size="16.4" stroke="#000" stroke-width="0.35" text-anchor="middle">28</text>
<text transform="translate(834 247.9) scale(1 0.98)" font-size="16.4" stroke="#000" stroke-width="0.35" text-anchor="middle">26</text>
<text transform="translate(834 293.3) scale(1 0.98)" font-size="16.4" stroke="#000" stroke-width="0.35" text-anchor="middle">24</text>
<text transform="translate(834 338.2) scale(1 0.98)" font-size="16.4" stroke="#000" stroke-width="0.35" text-anchor="middle">22</text>
<text transform="translate(834 381.95) scale(1 0.98)" font-size="16.4" stroke="#000" stroke-width="0.35" text-anchor="middle">20</text>
<text transform="translate(834 424.95) scale(1 0.98)" font-size="16.4" stroke="#000" stroke-width="0.35" text-anchor="middle">18</text>
<text transform="translate(834 468.2) scale(1 0.98)" font-size="16.4" stroke="#000" stroke-width="0.35" text-anchor="middle">16</text>
<text transform="translate(834 510.2) scale(1 0.98)" font-size="16.4" stroke="#000" stroke-width="0.35" text-anchor="middle">14</text>
<text transform="translate(834 551.45) scale(1 0.98)" font-size="16.4" stroke="#000" stroke-width="0.35" text-anchor="middle">12</text>
<text transform="translate(834 591.95) scale(1 0.98)" font-size="16.4" stroke="#000" stroke-width="0.35" text-anchor="middle">10</text>
<text transform="translate(829.5 631.95) scale(1 0.98)" font-size="16.4" stroke="#000" stroke-width="0.35" text-anchor="middle">8</text>
<text transform="translate(829.5 672) scale(1 0.98)" font-size="16.4" stroke="#000" stroke-width="0.35" text-anchor="middle">6</text>
<text transform="translate(829.5 711.1) scale(1 0.98)" font-size="16.4" stroke="#000" stroke-width="0.35" text-anchor="middle">4</text>
<text transform="translate(829.5 748.9) scale(1 0.98)" font-size="16.4" stroke="#000" stroke-width="0.35" text-anchor="middle">2</text>
<text transform="translate(829.5 787.2) scale(1 0.98)" font-size="16.4" stroke="#000" stroke-width="0.35" text-anchor="middle">0</text>
<text transform="translate(773.2 426.3) rotate(90) scale(1 0.9)" font-size="16.95" stroke="#000" stroke-width="0.4" text-anchor="middle">Height (1000 Feet)</text>
<text transform="translate(713.2 65.7) scale(1 1.12)" font-size="11.7" fill="#10B010" stroke="#10B010" stroke-width="0.45" text-anchor="middle">0</text>
<text transform="translate(758.7 65.7) scale(1 1.12)" font-size="11.7" fill="#10B010" stroke="#10B010" stroke-width="0.45" text-anchor="middle">20</text>
<text transform="translate(804.5 65.7) scale(1 1.12)" font-size="11.7" fill="#10B010" stroke="#10B010" stroke-width="0.45" text-anchor="middle">40</text>
<text transform="translate(850 65.7) scale(1 1.12)" font-size="11.7" fill="#10B010" stroke="#10B010" stroke-width="0.45" text-anchor="middle">60</text>
<text transform="translate(713.2 799.4) scale(1 1.12)" font-size="11.7" fill="#10B010" stroke="#10B010" stroke-width="0.45" text-anchor="middle">0</text>
<text transform="translate(758.7 799.4) scale(1 1.12)" font-size="11.7" fill="#10B010" stroke="#10B010" stroke-width="0.45" text-anchor="middle">20</text>
<text transform="translate(804.5 799.4) scale(1 1.12)" font-size="11.7" fill="#10B010" stroke="#10B010" stroke-width="0.45" text-anchor="middle">40</text>
<text transform="translate(850 799.4) scale(1 1.12)" font-size="11.7" fill="#10B010" stroke="#10B010" stroke-width="0.45" text-anchor="middle">60</text>
<text transform="translate(760.2 813.3)" font-size="12.3" fill="#10B010" stroke="#10B010" stroke-width="0.2" text-anchor="middle">Speed (kt)</text>
<text transform="translate(45 58.8) scale(1 0.95)" font-size="16.8" stroke="#000" stroke-width="0.3" text-anchor="end">250</text>
<text transform="translate(45 153.8) scale(1 0.95)" font-size="16.8" stroke="#000" stroke-width="0.3" text-anchor="end">300</text>
<text transform="translate(45 303.8) scale(1 0.95)" font-size="16.8" stroke="#000" stroke-width="0.3" text-anchor="end">400</text>
<text transform="translate(45 419.8) scale(1 0.95)" font-size="16.8" stroke="#000" stroke-width="0.3" text-anchor="end">500</text>
<text transform="translate(45 594.8) scale(1 0.95)" font-size="16.8" stroke="#000" stroke-width="0.3" text-anchor="end">700</text>
<text transform="translate(45 696.8) scale(1 0.95)" font-size="16.8" stroke="#000" stroke-width="0.3" text-anchor="end">850</text>
<text transform="translate(45 780.8) scale(1 0.95)" font-size="16.8" stroke="#000" stroke-width="0.3" text-anchor="end">1000</text>
<text transform="translate(14.6 444.1) rotate(-90) scale(1 1.05)" font-size="15.1" stroke="#000" stroke-width="0.35" text-anchor="middle">P (hPa)</text>
<text transform="translate(85.67 833.3) scale(1 0.97)" font-size="16.6" stroke="#000" stroke-width="0.3" text-anchor="middle">-30</text>
<text transform="translate(168.02 833.3) scale(1 0.97)" font-size="16.6" stroke="#000" stroke-width="0.3" text-anchor="middle">-20</text>
<text transform="translate(250.36 833.3) scale(1 0.97)" font-size="16.6" stroke="#000" stroke-width="0.3" text-anchor="middle">-10</text>
<text transform="translate(333.31 833.3) scale(1 0.97)" font-size="16.6" stroke="#000" stroke-width="0.3" text-anchor="middle">0</text>
<text transform="translate(415.65 833.3) scale(1 0.97)" font-size="16.6" stroke="#000" stroke-width="0.3" text-anchor="middle">10</text>
<text transform="translate(497.99 833.3) scale(1 0.97)" font-size="16.6" stroke="#000" stroke-width="0.3" text-anchor="middle">20</text>
<text transform="translate(580.34 833.3) scale(1 0.97)" font-size="16.6" stroke="#000" stroke-width="0.3" text-anchor="middle">30</text>
<text transform="translate(662.68 833.3) scale(1 0.97)" font-size="16.6" stroke="#000" stroke-width="0.3" text-anchor="middle">40</text>
<text transform="translate(430.5 854.6) scale(1 1.05)" font-size="15.3" stroke="#000" stroke-width="0.3" text-anchor="middle">Temperature (C)</text>
<circle cx="55.7" cy="23.3" r="4.4" fill="#000"/>
<text transform="translate(65.2 30.9) scale(1 1.07)" font-size="20.6" stroke="#000" stroke-width="0.3">NZCH</text>
<text transform="translate(127.7 28.1) scale(1 0.98)" font-size="12.85" stroke="#000" stroke-width="0.35">-43.489°,172.532° (58,32)</text>
<text transform="translate(293.4 30.8) scale(1 1.05)" font-size="20.6" stroke="#000" stroke-width="0.3">Valid 1200 NZDT</text>
<text transform="translate(455.8 28.8)" font-size="15.3" stroke="#000" stroke-width="0.3">(2300Z)</text>
<text transform="translate(517.6 30.8) scale(1 1.05)" font-size="20.2" stroke="#000" stroke-width="0.3">TUE 25 Nov 2025</text>
<text transform="translate(684.2 29.1)" font-size="15.6" stroke="#000" stroke-width="0.35">[11hrFcst@1729z]</text>
<text transform="translate(289.5 47.9)" font-size="12.35" fill="#B0175F" stroke="#B0175F" stroke-width="0.35">Plcl=910 Tlcl[C]=8 Shox=8 Pwat[cm]=2 Cape[J]= 29</text>
</svg>
</body></html>
